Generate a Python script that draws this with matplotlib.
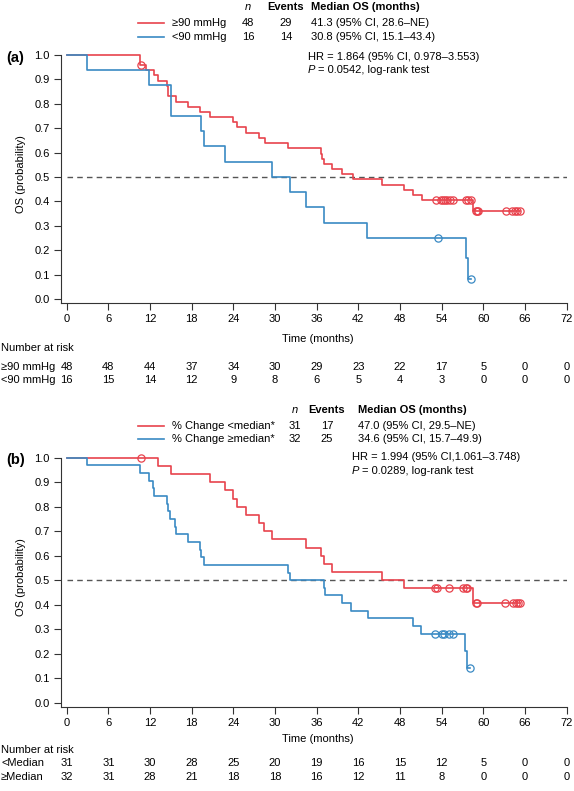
import numpy as np
import matplotlib
matplotlib.use('Agg')
import matplotlib.pyplot as plt
from matplotlib.lines import Line2D
from matplotlib.transforms import blended_transform_factory

plt.rcParams['font.family'] = ['Liberation Sans', 'DejaVu Sans']
plt.rcParams['font.size'] = 8

W, H = 574, 791
RED = '#e8434d'
BLUE = '#3a8ac4'
FS = 8

# ---- panel (a): >=90 mmHg vs <90 mmHg ----
a_red_t = [0, 10.5, 11.4, 12.5, 13.1, 14.5, 14.6, 15.7, 17.5, 19.2, 20.7, 23.9, 24.5,
           25.8, 27.7, 28.6, 31.8, 36.6, 36.8, 37.0, 38.2, 39.7, 41.2, 45.4, 48.6, 49.8,
           51.1, 58.5, 65.3]
a_red_s = [1.0, 0.958, 0.937, 0.916, 0.894, 0.873, 0.831, 0.809, 0.788, 0.767, 0.745,
           0.724, 0.703, 0.681, 0.660, 0.639, 0.618, 0.596, 0.575, 0.554, 0.532, 0.511,
           0.490, 0.468, 0.447, 0.426, 0.405, 0.360, 0.360]
a_red_cens = [10.7, 53.2, 53.9, 54.2, 54.5, 54.7, 55.2, 55.6, 57.5, 57.8, 58.2,
              59.0, 59.1, 59.2, 63.3, 64.1, 64.5, 64.8, 65.3]

a_blue_t = [0, 2.9, 11.9, 15.0, 19.3, 19.7, 22.8, 29.5, 32.1, 34.4, 37.0, 43.3, 57.5,
            57.8, 58.2]
a_blue_s = [1.0, 0.9375, 0.875, 0.75, 0.6875, 0.625, 0.5625, 0.5, 0.4375, 0.375,
            0.3125, 0.25, 0.1667, 0.0833, 0.0833]
a_blue_cens = [53.4, 58.2]

a_groups = ['\u226590 mmHg', '<90 mmHg']
a_n = ['48', '16']
a_events = ['29', '14']
a_median = ['41.3 (95% CI, 28.6\u2013NE)', '30.8 (95% CI, 15.1\u201343.4)']
a_hr = 'HR = 1.864 (95% CI, 0.978\u20133.553)'
a_p = '= 0.0542, log-rank test'
a_risk_red = [48, 48, 44, 37, 34, 30, 29, 23, 22, 17, 5, 0, 0]
a_risk_blue = [16, 15, 14, 12, 9, 8, 6, 5, 4, 3, 0, 0, 0]

# ---- panel (b): % change <median vs >=median ----
b_red_t = [0, 13.1, 15.0, 20.7, 22.8, 23.9, 24.5, 25.8, 27.7, 28.4, 29.5, 34.4, 36.6,
           37.0, 38.2, 45.4, 48.6, 58.5, 65.3]
b_red_s = [1.0, 0.967, 0.933, 0.9, 0.867, 0.833, 0.8, 0.767, 0.733, 0.7, 0.667, 0.633,
           0.6, 0.567, 0.533, 0.5, 0.467, 0.408, 0.408]
b_red_cens = [10.7, 53.0, 53.3, 55.0, 57.1, 57.5, 57.6, 59.0, 59.1, 63.1, 64.3, 64.7,
              65.0, 65.3]

b_blue_t = [0, 2.9, 10.6, 11.85, 12.45, 12.6, 14.4, 14.6, 14.9, 15.6, 15.7, 17.5, 19.2,
            19.4, 19.8, 31.8, 32.2, 37.0, 37.2, 39.7, 41.0, 43.4, 49.8, 51.0, 57.4,
            57.6, 58.1]
b_blue_s = [1.0, 0.969, 0.938, 0.906, 0.875, 0.844, 0.813, 0.781, 0.75, 0.719, 0.688,
            0.656, 0.625, 0.594, 0.563, 0.531, 0.5, 0.469, 0.438, 0.406, 0.375, 0.344,
            0.313, 0.281, 0.211, 0.141, 0.141]
b_blue_cens = [53.0, 54.1, 54.4, 55.0, 55.6, 58.1]

b_groups = ['% Change <median*', '% Change \u2265median*']
b_n = ['31', '32']
b_events = ['17', '25']
b_median = ['47.0 (95% CI, 29.5\u2013NE)', '34.6 (95% CI, 15.7\u201349.9)']
b_hr = 'HR = 1.994 (95% CI,1.061\u20133.748)'
b_p = '= 0.0289, log-rank test'
b_risk_labels = ['<Median', '\u2265Median']
b_risk_red = [31, 31, 30, 28, 25, 20, 19, 16, 15, 12, 5, 0, 0]
b_risk_blue = [32, 31, 28, 21, 18, 18, 16, 12, 11, 8, 0, 0, 0]

risk_times = list(range(0, 73, 6))


def fx(x):
    return x / W


def fy(y):
    return 1 - y / H


fig = plt.figure(figsize=(W / 100, H / 100), dpi=100)


def make_axes(top_px, bottom_px):
    ax = fig.add_axes([fx(61), fy(bottom_px), (566.7 - 61) / W, (bottom_px - top_px) / H])
    ax.set_xlim(-0.82, 72)
    ax.set_ylim(-0.0164, 1.0)
    for s in ['top', 'right']:
        ax.spines[s].set_visible(False)
    for s in ['left', 'bottom']:
        ax.spines[s].set_linewidth(0.8)
        ax.spines[s].set_color('#333333')
    ax.set_xticks(risk_times)
    ax.set_yticks(np.round(np.arange(0, 1.01, 0.1), 1))
    ax.set_yticklabels(['%.1f' % v for v in np.arange(0, 1.01, 0.1)])
    ax.tick_params(direction='out', length=5, width=0.8, color='#333333',
                   labelsize=FS, pad=3)
    ax.set_ylabel('OS (probability)', fontsize=FS)
    ax.yaxis.set_label_coords(-0.07, 0.52)
    return ax


def draw_curve(ax, t, s, cens, color):
    t = np.array(t)
    s = np.array(s)
    ax.step(t, s, where='post', color=color, lw=1.2, clip_on=False, zorder=3)
    idx = np.searchsorted(t, cens, side='right') - 1
    ax.plot(cens, s[idx], 'o', mfc='none', mec=color, ms=5.2, mew=0.9,
            clip_on=False, zorder=4)


def legend_block(y_head, y_rows, groups, ns, evs, meds, x_n, x_ev, x_med):
    fig.text(fx(x_n), fy(y_head), 'n', style='italic', ha='center', va='center')
    fig.text(fx(x_ev), fy(y_head), 'Events', weight='bold', ha='center', va='center')
    fig.text(fx(x_med), fy(y_head), 'Median OS (months)', weight='bold', ha='left',
             va='center')
    for y, g, n, e, m, c in zip(y_rows, groups, ns, evs, meds, [RED, BLUE]):
        fig.add_artist(Line2D([fx(138), fx(164)], [fy(y), fy(y)], color=c, lw=1.2))
        fig.text(fx(172.5), fy(y), g, ha='left', va='center')
        fig.text(fx(x_n), fy(y), n, ha='center', va='center')
        fig.text(fx(x_ev), fy(y), e, ha='center', va='center')
        fig.text(fx(x_med), fy(y), m, ha='left', va='center')


def risk_table(ax, y_head, y_rows, labels, rows):
    tr = blended_transform_factory(ax.transData, fig.transFigure)
    fig.text(fx(1), fy(y_head), 'Number at risk', ha='left', va='center')
    for y, lab, vals in zip(y_rows, labels, rows):
        fig.text(fx(1), fy(y), lab, ha='left', va='center')
        for t, v in zip(risk_times, vals):
            ax.text(t, fy(y), str(v), transform=tr, ha='center', va='center')


def hr_block(x, y1, y2, hr, p):
    fig.text(fx(x), fy(y1), hr, ha='left', va='center')
    fig.text(fx(x), fy(y2), 'P', style='italic', ha='left', va='center')
    fig.text(fx(x + 10), fy(y2), p, ha='left', va='center')


# panel (a)
ax1 = make_axes(55, 303)
ax1.plot([0, 72], [0.5, 0.5], ls=(0, (4, 3)), color='#555555', lw=1, zorder=1)
draw_curve(ax1, a_red_t, a_red_s, a_red_cens, RED)
draw_curve(ax1, a_blue_t, a_blue_s, a_blue_cens, BLUE)
ax1.set_xlabel('Time (months)', fontsize=FS)
ax1.xaxis.set_label_coords(0.507, -0.125)
legend_block(7.3, [22.8, 36.7], a_groups, a_n, a_events, a_median, 248, 286, 311)
hr_block(308, 57, 70, a_hr, a_p)
fig.text(fx(6), fy(58), '(a)', weight='bold', fontsize=10.5, ha='left', va='center')
risk_table(ax1, 348, [367, 380], a_groups, [a_risk_red, a_risk_blue])

# panel (b)
ax2 = make_axes(457.7, 706.7)
ax2.plot([0, 72], [0.5, 0.5], ls=(0, (4, 3)), color='#555555', lw=1, zorder=1)
draw_curve(ax2, b_red_t, b_red_s, b_red_cens, RED)
draw_curve(ax2, b_blue_t, b_blue_s, b_blue_cens, BLUE)
ax2.set_xlabel('Time (months)', fontsize=FS)
ax2.xaxis.set_label_coords(0.507, -0.11)
legend_block(410, [426, 439], b_groups, b_n, b_events, b_median, 295, 327, 358)
hr_block(352, 457, 471, b_hr, b_p)
fig.text(fx(6), fy(460), '(b)', weight='bold', fontsize=10.5, ha='left', va='center')
risk_table(ax2, 750, [763.5, 777], b_risk_labels, [b_risk_red, b_risk_blue])

fig.savefig('out.png', dpi=100)
